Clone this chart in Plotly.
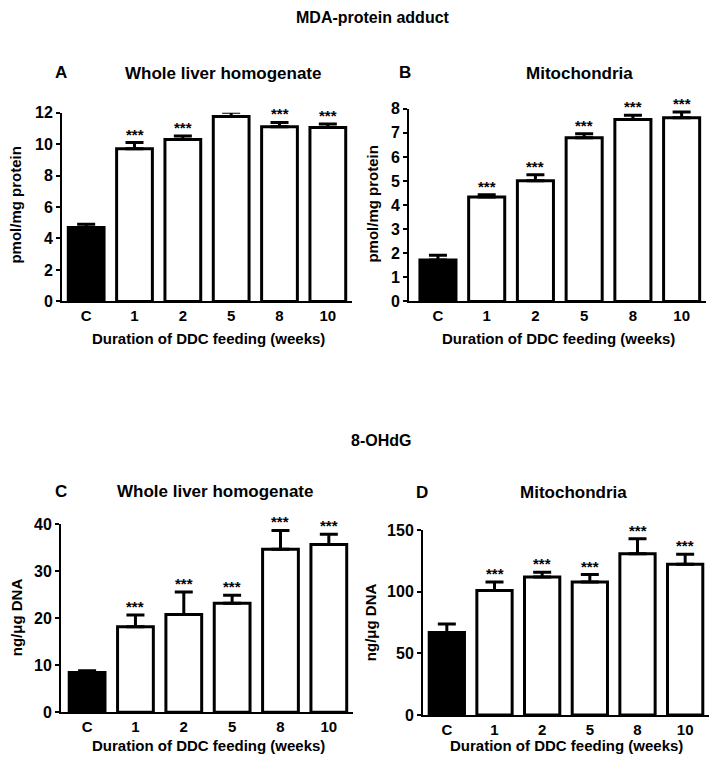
import plotly.graph_objects as go

categories = ["C", "1", "2", "5", "8", "10"]
stars = ["", "***", "***", "***", "***", "***"]

mda_liver = [4.7, 9.7, 10.3, 11.75, 11.1, 11.05]
mda_liver_err = [0.2, 0.4, 0.22, 0.27, 0.28, 0.23]

mda_mito = [1.72, 4.33, 5.01, 6.8, 7.55, 7.63]
mda_mito_err = [0.2, 0.1, 0.25, 0.16, 0.18, 0.23]

ohdg_liver = [8.45, 18.2, 20.8, 23.2, 34.7, 35.7]
ohdg_liver_err = [0.35, 2.5, 4.8, 1.7, 4.0, 2.2]

ohdg_mito = [67, 101, 112, 108, 131, 122.5]
ohdg_mito_err = [7, 7, 4, 6, 12, 8]

W, H = 712, 772
FONT = "Liberation Sans"

def px(x):
    return x / W

def py(y):
    return 1 - y / H

panels = [
    dict(vals=mda_liver, err=mda_liver_err, xd=[62, 352], yd=[300, 107], xr=[-0.5, 5.5],
         yr=[0, 12], dt=2),
    dict(vals=mda_mito, err=mda_mito_err, xd=[409, 706], yd=[300, 103], xr=[-0.594, 5.5],
         yr=[0, 8], dt=1),
    dict(vals=ohdg_liver, err=ohdg_liver_err, xd=[61, 353], yd=[720, 528], xr=[-0.54, 5.5],
         yr=[0, 40], dt=10),
    dict(vals=ohdg_mito, err=ohdg_mito_err, xd=[423, 709], yd=[723, 534], xr=[-0.5, 5.5],
         yr=[0, 150], dt=50),
]

fig = go.Figure()
layout = dict(
    width=W, height=H, margin=dict(l=0, r=0, t=0, b=0),
    paper_bgcolor="white", plot_bgcolor="white", showlegend=False,
    font=dict(family=FONT, color="black"),
)
annotations = []

for i, p in enumerate(panels):
    n = i + 1
    xa = "x" if n == 1 else f"x{n}"
    ya = "y" if n == 1 else f"y{n}"
    colors = ["black"] + ["white"] * 5
    fig.add_trace(go.Bar(
        x=categories, y=p["vals"], xaxis=xa, yaxis=ya, width=0.74,
        marker=dict(color=colors, line=dict(color="black", width=3)),
        error_y=dict(type="data", symmetric=False, array=p["err"],
                     arrayminus=[0] * 6, color="black", thickness=3, width=9),
        hoverinfo="skip",
    ))
    layout[f"xaxis{'' if n == 1 else n}"] = dict(
        domain=[px(p["xd"][0]), px(p["xd"][1])], anchor=ya, type="category",
        range=p["xr"], showline=True, linecolor="black", linewidth=2,
        showgrid=False, zeroline=False, ticks="",
        tickfont=dict(family=FONT, size=15, weight="bold"), fixedrange=True,
    )
    layout[f"yaxis{'' if n == 1 else n}"] = dict(
        domain=[py(p["yd"][0]), py(p["yd"][1])], anchor=xa,
        range=p["yr"], dtick=p["dt"], tick0=0, showline=True, linecolor="black",
        linewidth=2, showgrid=False, zeroline=False, ticks="outside", ticklen=4,
        tickwidth=2, tickcolor="black",
        tickfont=dict(family=FONT, size=16, weight="bold"), fixedrange=True,
    )
    for j, (v, e, s) in enumerate(zip(p["vals"], p["err"], stars)):
        if s:
            annotations.append(dict(
                x=j, y=v + e, xref=xa, yref=ya, text=s, showarrow=False,
                yanchor="bottom", xanchor="center", yshift=-2,
                font=dict(family=FONT, size=15, weight="bold"),
            ))

def label(text, x, y, size, angle=0):
    annotations.append(dict(
        x=px(x), y=py(y), xref="paper", yref="paper", text=text, showarrow=False,
        xanchor="center", yanchor="middle", textangle=angle,
        font=dict(family=FONT, size=size, weight="bold"),
    ))

label("MDA-protein adduct", 373, 10, 16)
label("8-OHdG", 381, 442, 16)
label("A", 61, 66, 17)
label("Whole liver homogenate", 223, 67, 17)
label("B", 405, 66, 17)
label("Mitochondria", 579, 67, 17)
label("C", 61, 494, 17)
label("Whole liver homogenate", 215, 494, 17)
label("D", 422, 495, 17)
label("Mitochondria", 573, 495, 17)
xt = "Duration of DDC feeding (weeks)"
label(xt, 208, 338, 15)
label(xt, 558, 338, 15)
label(xt, 208, 754, 15)
label(xt, 566, 754, 15)
label("pmol/mg protein", 16, 201, 15, -90)
label("pmol/mg protein", 373, 200, 15, -90)
label("ng/μg DNA", 16, 623, 15, -90)
label("ng/μg DNA", 370, 628, 15, -90)

layout["annotations"] = annotations
fig.update_layout(**layout)
fig.write_html(
    "out.html",
    config={"displayModeBar": False},
    post_script="document.body.style.margin='0';document.body.style.overflow='hidden';",
)
